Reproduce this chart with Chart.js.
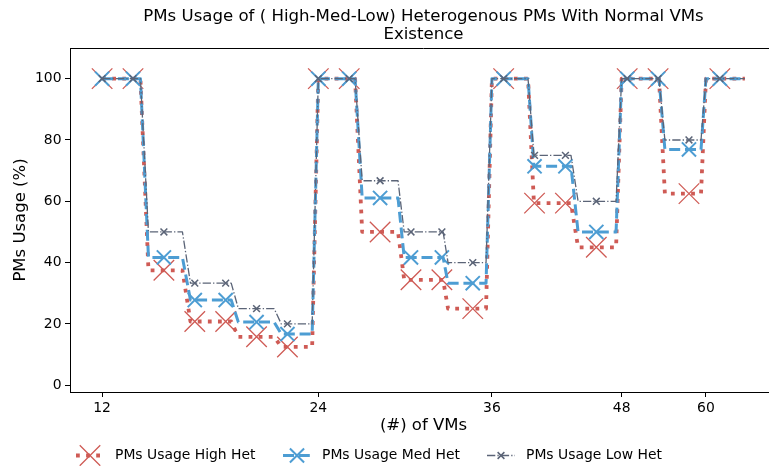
<!DOCTYPE html>
<html>
<head>
<meta charset="utf-8">
<script src="https://cdn.jsdelivr.net/npm/chart.js@4.4.1/dist/chart.umd.min.js"></script>
<style>
html, body { margin: 0; padding: 0; background: #fff; overflow: hidden; width: 769px; height: 466px; }
#wrap { width: 785px; height: 466px; }
</style>
</head>
<body>
<div id="wrap"><canvas id="usageChart" width="785" height="466"></canvas></div>
<script>
// x is in step-index units: one marker per step, 0..20
var markerX = [0, 1, 2, 3, 4, 5, 6, 7, 8, 9, 10, 11, 12, 13, 14, 15, 16, 17, 18, 19, 20];
var highHet = [100, 100, 37.5, 20.8, 20.8, 15.8, 12.5, 100, 100, 50, 34.4, 34.4, 25, 100, 59.4, 59.4, 45, 100, 100, 62.5, 100];
var medHet  = [100, 100, 41.7, 27.8, 27.8, 20.6, 16.7, 100, 100, 61.1, 41.7, 41.7, 33.3, 100, 71.4, 71.4, 50, 100, 100, 76.9, 100];
var lowHet  = [100, 100, 50, 33.3, 33.3, 25, 20, 100, 100, 66.7, 50, 50, 40, 100, 75, 75, 60, 100, 100, 80, 100];

// where each level change starts and ends
var stepFrom = [1.24, 2.60, 4.18, 5.57, 6.80, 8.19, 9.58, 11.04, 12.43, 13.79, 15.18, 16.64, 18.03, 19.39];
var stepTo   = [1.50, 2.86, 4.41, 5.80, 7.00, 8.42, 9.78, 11.20, 12.62, 13.98, 15.41, 16.82, 18.22, 19.55];
var lineEnd = 20.81;

var xTickPos = [0, 7.0, 12.62, 16.82, 19.55];
var xTickLabels = ['12', '24', '36', '48', '60'];
var yTicks = [0, 20, 40, 60, 80, 100];

var FONT = 'DejaVu Sans';

function value_at(vals, x, after) {
	// value of the marker right before (or right after) x
	var v = null;
	for (var i = 0; i < markerX.length; i++) {
		if (!after && markerX[i] < x) v = vals[i];
		if (after && markerX[i] > x && v === null) v = vals[i];
	}
	return v;
}

function build_steps(vals) {
	var pts = [];
	for (var i = 0; i < markerX.length; i++) {
		pts.push({x: markerX[i], y: vals[i], mark: true});
	}
	for (var k = 0; k < stepFrom.length; k++) {
		pts.push({x: stepFrom[k], y: value_at(vals, stepFrom[k], false)});
		pts.push({x: stepTo[k], y: value_at(vals, stepTo[k], true)});
	}
	pts.push({x: lineEnd, y: vals[vals.length - 1]});
	pts.sort(function(a, b) { return a.x - b.x; });
	return pts;
}

function series(label, vals, color, width, dash, markSize, markWidth, order) {
	return {
		label: label,
		data: build_steps(vals),
		borderColor: color,
		borderWidth: width,
		borderDash: dash,
		borderJoinStyle: 'round',
		tension: 0,
		fill: false,
		clip: false,
		order: order,
		pointStyle: 'crossRot',
		pointBorderColor: color,
		pointBackgroundColor: color,
		pointBorderWidth: markWidth,
		pointRadius: function(ctx) { return ctx.raw && ctx.raw.mark ? markSize : 0; },
		pointHoverRadius: 0,
		markSize: markSize
	};
}

var frame_and_legend = {
	id: 'frame_and_legend',
	afterDraw: function(chart) {
		var ctx = chart.ctx;
		var a = chart.chartArea;
		ctx.save();
		// top spine (the right one falls outside the window)
		ctx.strokeStyle = '#000';
		ctx.lineWidth = 1;
		ctx.beginPath();
		ctx.moveTo(a.left, a.top + 0.5);
		ctx.lineTo(a.right, a.top + 0.5);
		ctx.stroke();

		// title
		var cx = (a.left + a.right) / 2;
		ctx.fillStyle = '#000';
		ctx.font = '16.6px "' + FONT + '"';
		ctx.textAlign = 'center';
		ctx.textBaseline = 'middle';
		ctx.fillText('PMs Usage of ( High-Med-Low) Heterogenous PMs With Normal VMs', cx, 17);
		ctx.fillText('Existence', cx, 35);

		// legend
		var handleX = [76, 283, 487];
		var ly = 455.5;
		ctx.font = '13.9px "' + FONT + '"';
		ctx.textAlign = 'left';
		chart.data.datasets.forEach(function(ds, i) {
			var x0 = handleX[i];
			ctx.strokeStyle = ds.borderColor;
			ctx.lineWidth = ds.borderWidth;
			ctx.setLineDash(ds.borderDash);
			ctx.beginPath();
			ctx.moveTo(x0, ly);
			ctx.lineTo(x0 + 28, ly);
			ctx.stroke();
			ctx.setLineDash([]);
			var h = ds.markSize * Math.SQRT1_2;
			ctx.lineWidth = ds.pointBorderWidth;
			ctx.beginPath();
			ctx.moveTo(x0 + 14 - h, ly - h);
			ctx.lineTo(x0 + 14 + h, ly + h);
			ctx.moveTo(x0 + 14 + h, ly - h);
			ctx.lineTo(x0 + 14 - h, ly + h);
			ctx.stroke();
			ctx.fillStyle = '#000';
			ctx.fillText(ds.label, x0 + 39, ly);
		});
		ctx.restore();
	}
};

var usageChart = new Chart(document.getElementById('usageChart').getContext('2d'), {
	type: 'line',
	data: {
		datasets: [
			series('PMs Usage High Het', highHet, '#cf5b55', 3.8, [3.8, 6.3], 14.5, 1.3, 3),
			series('PMs Usage Med Het', medHet, '#4d9dd3', 3, [11, 4.8], 10, 2, 2),
			series('PMs Usage Low Het', lowHet, '#5b6477', 1.3, [8.3, 2.1, 1.3, 2.1], 4.8, 1.5, 1)
		]
	},
	options: {
		responsive: false,
		animation: false,
		layout: { autoPadding: false, padding: { top: 48, bottom: 28, left: 0, right: 8 } },
		plugins: {
			legend: { display: false },
			title: { display: false },
			tooltip: { enabled: false }
		},
		scales: {
			x: {
				type: 'linear',
				min: -1.04,
				max: 21.85,
				afterBuildTicks: function(scale) {
					scale.ticks = xTickPos.map(function(v) { return {value: v}; });
				},
				afterFit: function(scale) { scale.height = 46; },
				ticks: {
					autoSkip: false,
					maxRotation: 0,
					color: '#000',
					padding: 3,
					font: { family: FONT, size: 13.9 },
					callback: function(v, i) { return xTickLabels[i]; }
				},
				grid: { drawOnChartArea: false, drawTicks: true, tickLength: 5, tickColor: '#000', tickWidth: 1 },
				border: { display: true, color: '#000', width: 1 },
				title: { display: true, text: '(#) of VMs', color: '#000', font: { family: FONT, size: 16.5 }, padding: { top: 0, bottom: 2 } }
			},
			y: {
				min: -2.2,
				max: 110,
				afterBuildTicks: function(scale) {
					scale.ticks = yTicks.map(function(v) { return {value: v}; });
				},
				afterFit: function(scale) { scale.width = 70; },
				ticks: {
					color: '#000',
					padding: 3.5,
					font: { family: FONT, size: 13.9 },
					callback: function(v) { return v; }
				},
				grid: { drawOnChartArea: false, drawTicks: true, tickLength: 5, tickColor: '#000', tickWidth: 1 },
				border: { display: true, color: '#000', width: 1 },
				title: { display: true, text: 'PMs Usage (%)', color: '#000', font: { family: FONT, size: 16.5 }, padding: { top: 11, bottom: 0 } }
			}
		}
	},
	plugins: [frame_and_legend]
});
</script>
</body>
</html>
